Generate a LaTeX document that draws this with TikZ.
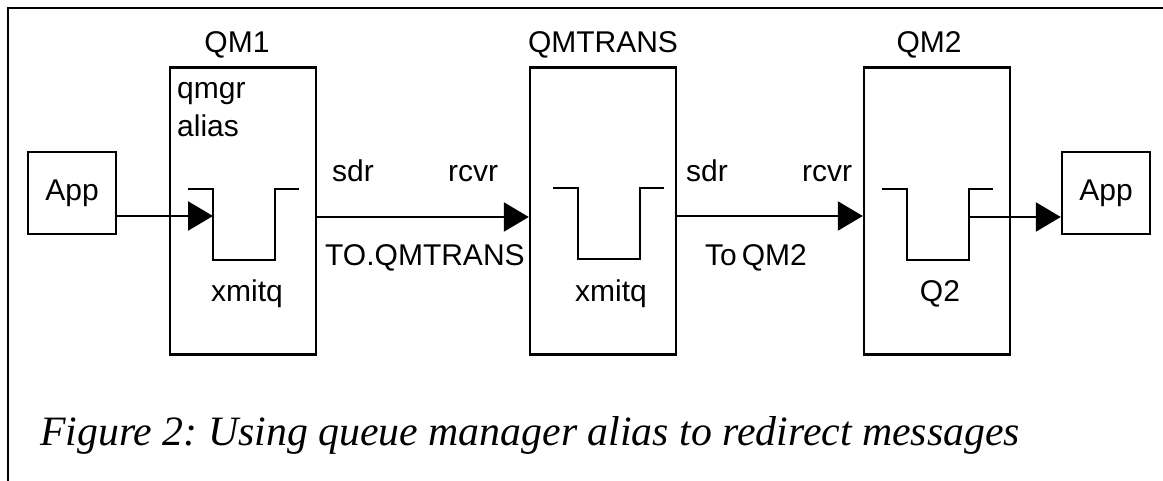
\documentclass[tikz,border=0pt]{standalone}
\usepackage{fontspec}
\setmainfont{Liberation Sans}
\newfontfamily\capfont{Liberation Serif}
\usetikzlibrary{arrows.meta}
\frenchspacing

\begin{document}
\begin{tikzpicture}[x=1pt,y=-1pt,
  lw/.style={line width=2.4pt},
  qmbox/.style={draw, lw, minimum width=146pt, minimum height=287pt, inner sep=0pt},
  appbox/.style={draw, lw, minimum width=88pt, minimum height=82pt, inner sep=0pt,
                 font=\fontsize{30}{36}\selectfont},
  lbl/.style={font=\fontsize{30}{36}\selectfont, inner sep=0pt, anchor=base},
  lblw/.style={lbl, anchor=base west},
  flow/.style={lw, -{Triangle[length=25pt,width=29pt]}},
  queuepic/.pic={
    \draw[lw] (-25,0) -- (0,0) -- (0,71) -- (62,71) -- (62,0) -- (86,0);
    \coordinate (-in) at (0,27);
    \coordinate (-out) at (62,28);
  }
]
\useasboundingbox (0,0) rectangle (1163,481);

% frame: top and left rules only
\draw[lw] (8,481) -- (8,8) -- (1163,8);

% queue managers and applications
\node[qmbox] (qm1) at (243,211) {};
\node[qmbox] (qmt) at (603,211) {};
\node[qmbox] (qm2) at (937,211) {};
\node[appbox] (app1) at (72,193) {App};
\node[appbox] (app2) at (1106,193) {App};

% queue manager names
\node[lbl] (n1) at (237,53) {QM1};
\node[lbl] (nt) at (603,53) {QMTRANS};
\node[lbl] (n2) at (929,53) {QM2};

% queues
\pic (q1) at (213,189) {queuepic};
\pic (qt) at (578,188) {queuepic};
\pic (q2) at (907,189) {queuepic};

% queue labels
\node[lblw] (qmgr) at (177,99) {qmgr};
\node[lblw] (alias) at (177,137) {alias};
\node[lbl] (x1) at (247,302) {xmitq};
\node[lbl] (xt) at (611,302) {xmitq};
\node[lbl] (qq2) at (940,302) {Q2};

% channel ends
\node[lbl] (s1) at (353,182) {sdr};
\node[lbl] (r1) at (473,182) {rcvr};
\node[lbl] (s2) at (707,182) {sdr};
\node[lbl] (r2) at (827,182) {rcvr};
\node[lblw] (c1) at (325,266) {TO.QMTRANS};
\node[lblw] (c2) at (705,266) {To\,QM2};

% message flow
\draw[flow] (app1.east |- q1-in) -- (q1-in);
\draw[flow] (qm1.east |- q1-out) -- (qmt.west |- q1-out);
\draw[flow] (qmt.east |- qt-out) -- (qm2.west |- qt-out);
\draw[flow] (q2-out) -- (app2.west |- q2-out);

% caption
\node[font=\capfont\itshape\fontsize{41.8}{48}\selectfont, anchor=base west, inner sep=0pt]
  (cap) at (40,445) {Figure 2: Using queue manager alias to redirect messages};
\end{tikzpicture}
\end{document}
